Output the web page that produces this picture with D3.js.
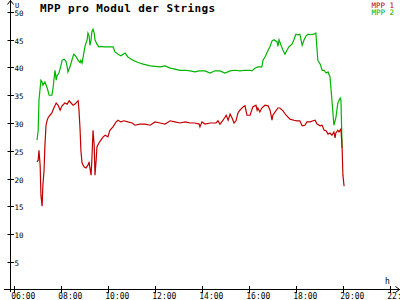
<!DOCTYPE html>
<html><head><meta charset="utf-8">
<script src="https://cdn.jsdelivr.net/npm/d3@7"></script>
<style>html,body{margin:0;padding:0;background:#fff;overflow:hidden}</style>
</head><body><svg id="c" width="400" height="300"></svg>
<script>
// time in minutes since midnight
const time2 = [418,421,423,428,431,433,438,444,449,456,459,461,464,467,469,474,479,482,487,492,495,497,502,507,512,518,523,528,530,533,538,541,546,548,551,553,556,558,561,564,566,571,576,581,589,599,612,617,625,632,643,650,663,676,689,707,732,745,758,770,783,796,809,821,832,847,860,872,885,898,911,924,936,949,962,967,975,982,992,995,1000,1008,1013,1018,1023,1031,1033,1036,1041,1046,1051,1056,1061,1069,1074,1079,1084,1089,1095,1100,1105,1110,1115,1125,1130,1135,1141,1146,1151,1156,1161,1166,1171,1176,1181,1186,1192,1194,1197];
const mpp2 = [26.9,28.7,34.1,37.7,37.4,36.8,37.4,36.3,35.0,35.0,36.3,37.7,39.5,37.7,38.5,39.0,40.3,41.3,41.5,41.1,40.1,39.2,40.1,41.3,42.4,41.9,41.3,40.9,41.3,40.8,42.8,44.0,45.0,46.2,45.7,44.0,45.0,46.4,46.9,46.2,45.0,44.2,43.7,43.8,43.7,43.7,43.7,42.8,42.4,42.1,42.6,41.9,41.3,40.9,40.6,40.3,40.1,40.3,39.9,39.7,39.5,39.5,39.4,39.2,39.4,39.4,39.0,39.4,39.4,39.0,39.4,39.5,39.4,39.5,39.5,39.4,39.9,40.1,40.1,41.3,41.9,43.1,43.8,44.8,45.0,44.6,43.8,45.0,44.0,43.1,42.4,43.1,43.7,44.2,45.0,46.0,45.9,46.0,44.0,45.0,45.7,46.0,45.9,46.0,46.2,41.3,40.6,39.5,39.5,39.0,39.2,38.3,34.1,29.6,30.9,33.6,34.5,34.1,25.5];
const time1 = [418,421,423,426,428,431,433,436,438,441,444,446,451,456,461,467,472,477,482,489,495,500,505,510,515,520,523,525,528,530,533,538,543,548,551,553,556,558,561,564,566,569,571,576,581,587,592,599,604,612,620,625,632,640,650,661,668,681,694,707,719,732,745,758,770,783,796,809,821,832,834,839,847,860,867,875,880,885,893,901,906,911,916,921,926,931,936,944,949,954,962,969,977,980,982,987,992,1000,1008,1013,1018,1020,1026,1033,1038,1046,1054,1064,1074,1082,1089,1095,1102,1107,1115,1123,1128,1133,1141,1146,1151,1156,1161,1166,1171,1176,1179,1181,1186,1189,1194,1197,1199,1202];
const mpp1 = [23.0,23.3,25.1,22.4,17.0,15.0,18.8,21.5,25.7,29.6,30.5,30.9,31.4,31.8,32.7,33.6,33.2,32.3,33.1,33.6,33.4,34.0,33.6,33.2,33.4,33.8,34.0,32.5,28.7,25.1,22.8,22.1,21.9,22.4,23.0,21.9,20.6,23.3,28.7,26.0,20.6,23.3,25.7,26.4,26.9,27.5,27.8,27.5,28.7,29.3,30.2,30.5,30.2,30.4,30.2,30.0,29.6,29.8,29.8,29.6,30.2,30.0,29.8,30.4,30.2,30.0,30.2,30.0,30.0,29.8,29.3,30.2,29.8,30.0,30.0,30.0,30.4,29.8,30.5,31.4,30.5,31.6,30.9,30.0,30.4,31.8,32.3,32.9,33.1,31.4,31.4,32.9,33.2,32.3,32.7,32.0,32.7,33.2,33.1,32.3,30.5,31.4,32.0,32.7,32.7,32.2,31.4,30.7,30.5,30.4,30.4,29.5,29.6,30.2,30.2,30.4,30.5,29.8,29.5,29.6,28.7,28.6,28.0,28.2,27.8,28.4,27.3,28.2,28.7,28.4,28.9,25.5,20.6,18.6];
const xTicks = [360,480,600,720,840,960,1080,1200,1320];
const xTickLabels = ["06:00","08:00","10:00","12:00","14:00","16:00","18:00","20:00","22:00"];
const yTicks = [5,10,15,20,25,30,35,40,45,50];
const seriesNames = ["MPP 1","MPP 2"];
const seriesColors = ["#c00000","#00b400"];

const svg = d3.select("#c");
const x = d3.scaleLinear().domain([360,1320]).range([14.3,390.3]);
const y = d3.scaleLinear().domain([0,50]).range([289.5,12]);
const mono = "DejaVu Sans Mono, Liberation Mono, monospace";

// axes
svg.append("line").attr("x1",10.5).attr("x2",10.5).attr("y1",0).attr("y2",292).attr("stroke","#000");
svg.append("line").attr("x1",4).attr("x2",400).attr("y1",289.5).attr("y2",289.5).attr("stroke","#000");
svg.append("path").attr("d","M7.5,4.5L10.5,0.5L13.5,4.5").attr("fill","none").attr("stroke","#000");
svg.append("path").attr("d","M395.5,286.5L399.5,289.5L395.5,292.5").attr("fill","none").attr("stroke","#000");

svg.selectAll(".yt").data(yTicks).enter().append("line")
  .attr("x1",7.5).attr("x2",14).attr("y1",d=>Math.round(y(d))+0.5).attr("y2",d=>Math.round(y(d))+0.5).attr("stroke","#000");
svg.selectAll(".yl").data(yTicks).enter().append("text")
  .attr("x",14.5).attr("y",d=>Math.round(y(d))+3.5)
  .attr("font-family",mono).attr("font-size",7.5).attr("fill","#000").text(d=>d);
svg.selectAll(".xt").data(xTicks).enter().append("line")
  .attr("x1",d=>Math.round(x(d))+0.5).attr("x2",d=>Math.round(x(d))+0.5).attr("y1",286).attr("y2",293).attr("stroke","#000");
svg.selectAll(".xl").data(xTicks).enter().append("text")
  .attr("x",d=>x(d)-3).attr("y",299)
  .attr("font-family",mono).attr("font-size",8).attr("fill","#000").text((d,i)=>xTickLabels[i]);
svg.append("text").attr("x",15).attr("y",7.5).attr("font-family",mono).attr("font-size",7).text("U");
svg.append("text").attr("x",385).attr("y",284).attr("font-family",mono).attr("font-size",8).text("h");

// title
svg.append("text").attr("x",40).attr("y",11.5).attr("font-family",mono).attr("font-weight","bold")
  .attr("font-size",11).attr("letter-spacing",0.4).text("MPP pro Modul der Strings");

// lines
const line = d3.line().x(d=>x(d[0])).y(d=>y(d[1]));
const data1 = time1.map((t,i)=>[t,mpp1[i]]);
const data2 = time2.map((t,i)=>[t,mpp2[i]]);
svg.append("path").datum(data2).attr("d",line).attr("fill","none").attr("stroke",seriesColors[1]).attr("stroke-width",1.2);
svg.append("path").datum(data1).attr("d",line).attr("fill","none").attr("stroke",seriesColors[0]).attr("stroke-width",1.2);

// legend
svg.selectAll(".lg").data(seriesNames).enter().append("text")
  .attr("x",394).attr("y",(d,i)=>7.5+i*7.5).attr("text-anchor","end")
  .attr("font-family",mono).attr("font-size",7.5).attr("fill",(d,i)=>seriesColors[i]).text(d=>d);
</script></body></html>
